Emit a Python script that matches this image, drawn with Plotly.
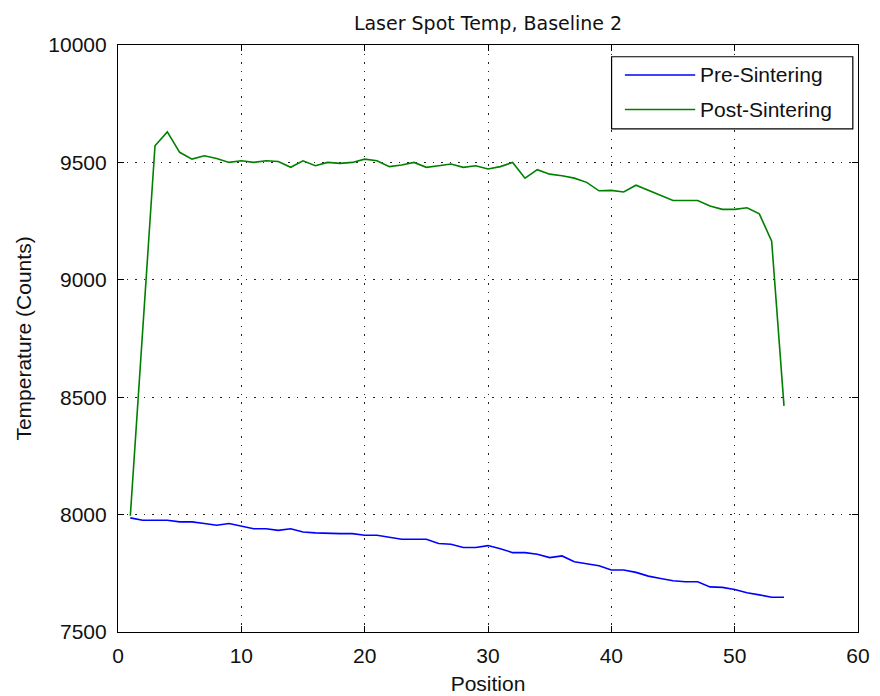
import plotly.graph_objects as go

# Measurement positions along the scan track
positions = list(range(1, 55))

# Spot temperature before sintering (counts)
pre_sintering = [
    7986, 7976, 7976, 7976, 7969, 7969, 7962, 7955, 7962, 7950,
    7940, 7940, 7933, 7940, 7926, 7922, 7919, 7919, 7919, 7912,
    7912, 7902, 7895, 7895, 7895, 7877, 7874, 7860, 7860, 7868,
    7855, 7838, 7838, 7831, 7817, 7824, 7799, 7791, 7782, 7764,
    7764, 7754, 7738, 7728, 7718, 7714, 7714, 7692, 7690, 7681,
    7667, 7658, 7648, 7648,
]

# Spot temperature after sintering (counts)
post_sintering = [
    7995, 8780, 9571, 9630, 9543, 9514, 9528, 9517, 9500, 9507,
    9500, 9507, 9504, 9479, 9507, 9486, 9500, 9496, 9500, 9514,
    9507, 9482, 9489, 9500, 9479, 9486, 9493, 9479, 9486, 9472,
    9482, 9500, 9433, 9469, 9450, 9443, 9433, 9415, 9379, 9381,
    9374, 9403, 9381, 9357, 9338, 9338, 9338, 9314, 9300, 9300,
    9307, 9281, 9164, 8463,
]

series_names = ["Pre-Sintering", "Post-Sintering"]
series_colors = ["#0000FF", "#008000"]

x_ticks = [0, 10, 20, 30, 40, 50, 60]
y_ticks = [7500, 8000, 8500, 9000, 9500, 10000]
y_tick_labels = ["7500", "8000", "8500", "9000", "9500", "10000"]

FONT = "Liberation Sans, Arial, Helvetica, sans-serif"
TITLE_FONT = "DejaVu Sans, Liberation Sans, sans-serif"

fig = go.Figure()
for name, values, color in zip(series_names, [pre_sintering, post_sintering], series_colors):
    fig.add_trace(go.Scatter(
        x=positions, y=values, mode="lines", name=name,
        line=dict(color=color, width=1.6), showlegend=False,
    ))

axis_common = dict(
    showline=True, linecolor="black", linewidth=1.2, mirror="ticks",
    ticks="inside", ticklen=6, tickwidth=1.2, tickcolor="black",
    showgrid=True, gridcolor="#222222", gridwidth=1.3, griddash="1.5px,7px",
    zeroline=False, automargin=False,
    tickfont=dict(family=FONT, size=21, color="#111111"),
    title_font=dict(family=FONT, size=21, color="#111111"),
)

fig.update_xaxes(range=[0, 60], tickvals=x_ticks, title_text="Position",
                 ticklabelstandoff=5, title_standoff=10, **axis_common)
fig.update_yaxes(range=[7500, 10000], tickvals=y_ticks, ticktext=y_tick_labels,
                 title_text="Temperature (Counts)", ticklabelstandoff=6,
                 title_standoff=10, **axis_common)

# Boxed legend in the upper right corner of the axes
shapes = [dict(type="rect", xref="paper", yref="paper",
               x0=0.667, x1=0.993, y0=0.857, y1=0.98,
               line=dict(color="black", width=1.2), fillcolor="white")]
annotations = []
legend_rows = [0.949, 0.890]
for name, color, yrow in zip(series_names, series_colors, legend_rows):
    shapes.append(dict(type="line", xref="paper", yref="paper",
                       x0=0.685, x1=0.780, y0=yrow, y1=yrow,
                       line=dict(color=color, width=1.6)))
    annotations.append(dict(xref="paper", yref="paper", x=0.784, y=yrow,
                            text=name, showarrow=False, xanchor="left",
                            yanchor="middle",
                            font=dict(family=FONT, size=21, color="#111111")))

fig.update_layout(
    width=880, height=696,
    margin=dict(l=118, r=22, t=45, b=64),
    paper_bgcolor="white", plot_bgcolor="white",
    title=dict(text="Laser Spot Temp, Baseline 2", x=0.5546, xanchor="center",
               y=0.966, yanchor="middle",
               font=dict(family=TITLE_FONT, size=19, color="#111111")),
    shapes=shapes, annotations=annotations,
)

fig.write_html("out.html")
